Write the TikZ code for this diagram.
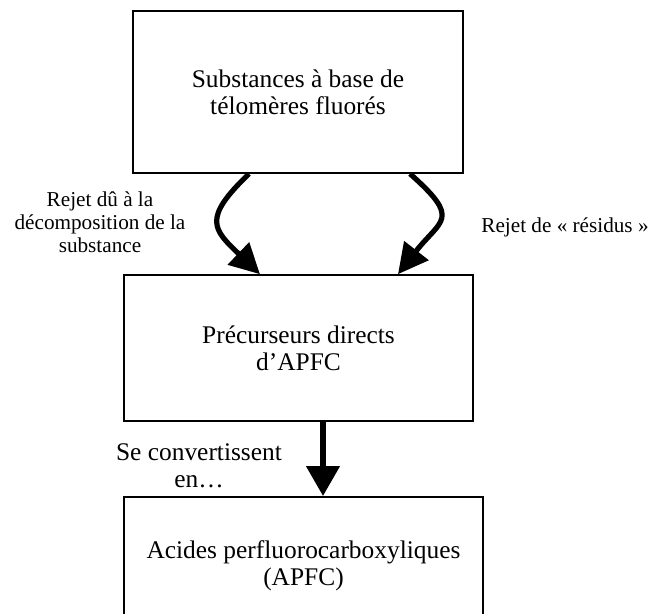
\documentclass[tikz,border=0pt]{standalone}
\usepackage{fontspec}
\setmainfont{Liberation Serif}
\usetikzlibrary{arrows.meta}

\tikzset{
  boite/.style={draw, line width=0.8pt, inner sep=0pt, align=center,
    font=\fontsize{12.7}{13.5}\selectfont},
  legende/.style={align=center, font=\fontsize{10.6}{11.5}\selectfont},
  courbe/.style={line width=2.6pt, -{Triangle[length=15pt,width=15pt]}},
  fleche/.style={line width=3.4pt, -{Triangle[length=15pt,width=16pt]}}
}

\begin{document}
\begin{tikzpicture}[x=0.5pt, y=-0.5pt]
  \useasboundingbox (0,0) rectangle (665,614);
  % boites
  \node[boite, minimum width=165pt, minimum height=81pt] (telo) at (298,92)
    {Substances à base de\\télomères fluorés};
  \node[boite, minimum width=174.5pt, minimum height=73pt] (prec) at (298.5,348)
    {Précurseurs directs\\d’APFC};
  \node[boite, minimum width=179.5pt, minimum height=69pt] (apfc) at (303.5,566)
    {Acides perfluorocarboxyliques\\(APFC)};
  % legendes
  \node[legende] (rejetdec) at (100,222) {Rejet dû à la\\décomposition de la\\substance};
  \node[legende, anchor=base] (rejetres) at (565,233) {Rejet de « résidus »};
  \node[boite, draw=none] (convert) at (199,466) {Se convertissent\\en…};
  % fleches
  \draw[courbe] ([xshift=-24.5pt]telo.south) .. controls +(-47,45) and +(-47,-45) .. ([xshift=-19.25pt]prec.north);
  \draw[courbe] ([xshift=56pt]telo.south) .. controls +(52,46) and +(43,-55) .. ([xshift=49.75pt]prec.north);
  \coordinate (depart) at ([xshift=12.25pt]prec.south);
  \draw[fleche] (depart) -- (depart |- apfc.north);
\end{tikzpicture}
\end{document}
